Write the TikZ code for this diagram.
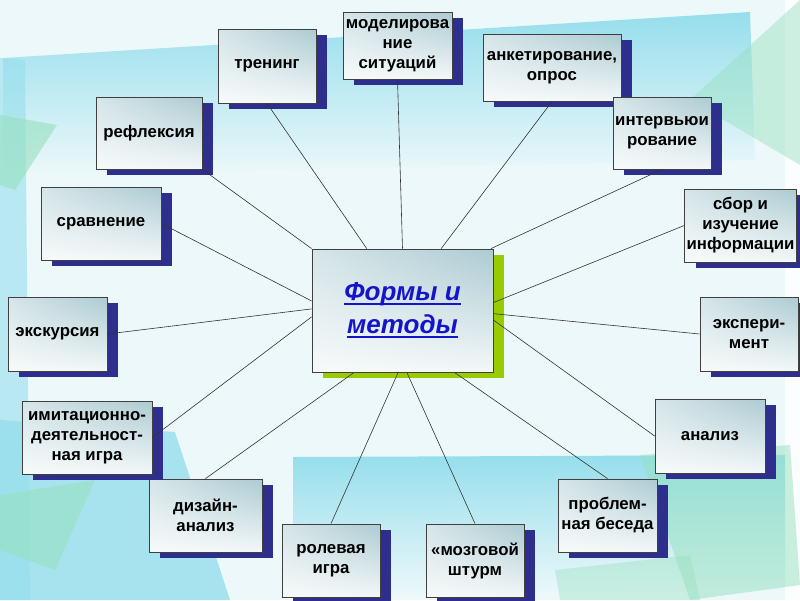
\documentclass[tikz,border=0pt]{standalone}
\usepackage{fontspec}
\setmainfont{Liberation Sans}
\usetikzlibrary{shadows,shadings}

\definecolor{navyshadow}{RGB}{46,46,140}
\definecolor{boxgrey}{RGB}{172,203,210}
\definecolor{limeshadow}{RGB}{153,204,0}
\definecolor{formblue}{RGB}{20,20,200}
\definecolor{paleback}{RGB}{236,248,250}
\definecolor{turq}{RGB}{150,222,236}
\definecolor{seagreen}{RGB}{150,224,190}

\newcommand{\thickul}[1]{\setbox0=\hbox{#1}\leavevmode\rlap{\vrule height -2.5pt depth 4.3pt width \wd0}\box0}

\tikzset{
  method/.style={draw=black!75, line width=0.8pt,
    upper right=boxgrey, upper left=boxgrey!50, lower left=white!90!boxgrey, lower right=boxgrey!15,
    general shadow={fill=navyshadow, shadow xshift=11pt, shadow yshift=-6pt},
    align=center, inner sep=2pt, font=\fontsize{16.8}{20}\selectfont\bfseries},
  centre/.style={method, general shadow={fill=limeshadow, shadow xshift=11pt, shadow yshift=-6pt},
    text=formblue, font=\fontsize{26}{33}\selectfont\bfseries\itshape},
  link/.style={black!80, line width=0.6pt}
}

\begin{document}
\begin{tikzpicture}[x=1pt, y=-1pt]
  \useasboundingbox (0,0) rectangle (800,600);
  \clip (0,0) rectangle (800,600);

  % background sheets
  \fill[paleback] (0,0) rectangle (800,600);
  \shade[top color=turq, bottom color=paleback] (3,58) -- (750,12) -- (755,160) -- (3,175) -- cycle;
  \fill[turq, opacity=0.6] (0,58) -- (25,60) -- (30,600) -- (0,600) -- cycle;
  \fill[seagreen, opacity=0.6] (0,115) -- (57,125) -- (15,190) -- (0,185) -- cycle;
  \fill[white, opacity=0.8] (785,0) rectangle (800,600);
  \fill[seagreen, opacity=0.45] (690,100) -- (800,0) -- (800,165) -- cycle;
  \fill[turq, opacity=0.8] (0,420) -- (175,432) -- (230,600) -- (0,600) -- cycle;
  \fill[seagreen, opacity=0.6] (0,495) -- (95,480) -- (55,570) -- (0,550) -- cycle;
  \shade[top color=turq, bottom color=paleback] (293,457) -- (785,455) -- (785,590) -- (293,595) -- cycle;
  \fill[seagreen, opacity=0.5] (640,455) -- (790,445) -- (800,585) -- (690,600) -- cycle;
  \fill[seagreen, opacity=0.4] (555,570) -- (690,555) -- (700,600) -- (560,600) -- cycle;

  % centre
  \node[centre, minimum width=181pt, minimum height=123pt] (c) at (402.5,310.5)
    {\thickul{Формы и}\\\thickul{методы}};

  % methods
  \node[method, minimum width=98pt, minimum height=74pt] (trening) at (267,66) {тренинг};
  \node[method, minimum width=109pt, minimum height=67pt] (model) at (397.5,45.5) {моделирова\\ние\\ситуаций};
  \node[method, minimum width=138pt, minimum height=67pt] (anket) at (552,67.5) {анкетирование,\\опрос};
  \node[method, minimum width=98pt, minimum height=72pt] (interv) at (662,133) {интервьюи\\рование};
  \node[method, minimum width=111pt, minimum height=73pt] (sbor) at (740.5,225.5) {сбор и\\изучение\\информации};
  \node[method, minimum width=98pt, minimum height=74pt] (eksper) at (749,334) {экспери-\\мент};
  \node[method, minimum width=110pt, minimum height=74pt] (analiz) at (710,436) {анализ};
  \node[method, minimum width=99pt, minimum height=73pt] (problem) at (607.5,515.5) {проблем-\\ная беседа};
  \node[method, minimum width=98pt, minimum height=73pt] (mozg) at (475,560.5) {«мозговой\\штурм};
  \node[method, minimum width=98pt, minimum height=73pt] (rol) at (331,560.5) {ролевая\\игра};
  \node[method, minimum width=113pt, minimum height=73pt] (dizain) at (205.5,515.5) {дизайн-\\анализ};
  \node[method, minimum width=130pt, minimum height=73pt] (imit) at (87,437.5) {имитационно-\\деятельност-\\ная игра};
  \node[method, minimum width=99pt, minimum height=74pt] (ekskurs) at (57.5,334) {экскурсия};
  \node[method, minimum width=120pt, minimum height=73pt] (sravn) at (101,223.5) {сравнение};
  \node[method, minimum width=106pt, minimum height=72pt] (refl) at (149,133) {рефлексия};

  % links
  \draw[link] (trening.south) -- (c.120);
  \draw[link] (model.south) -- (c.north);
  \draw[link] (anket.south) -- (c.58);
  \draw[link] (interv.south) -- (c.35);
  \draw[link] (sbor.west) -- (c.5);
  \draw[link] (eksper.west) -- (c.-2);
  \draw[link] (analiz.west) -- (c.-6);
  \draw[link] (problem.north) -- (c.-50);
  \draw[link] (mozg.north) -- (c.-86);
  \draw[link] (rol.north) -- (c.-94);
  \draw[link] (dizain.north) -- (c.-128);
  \draw[link] (imit.east) -- (c.184);
  \draw[link] (ekskurs.east) -- (c.179);
  \draw[link] (sravn.east) -- (c.174);
  \draw[link] (refl.south east) -- (c.north west);
\end{tikzpicture}
\end{document}
